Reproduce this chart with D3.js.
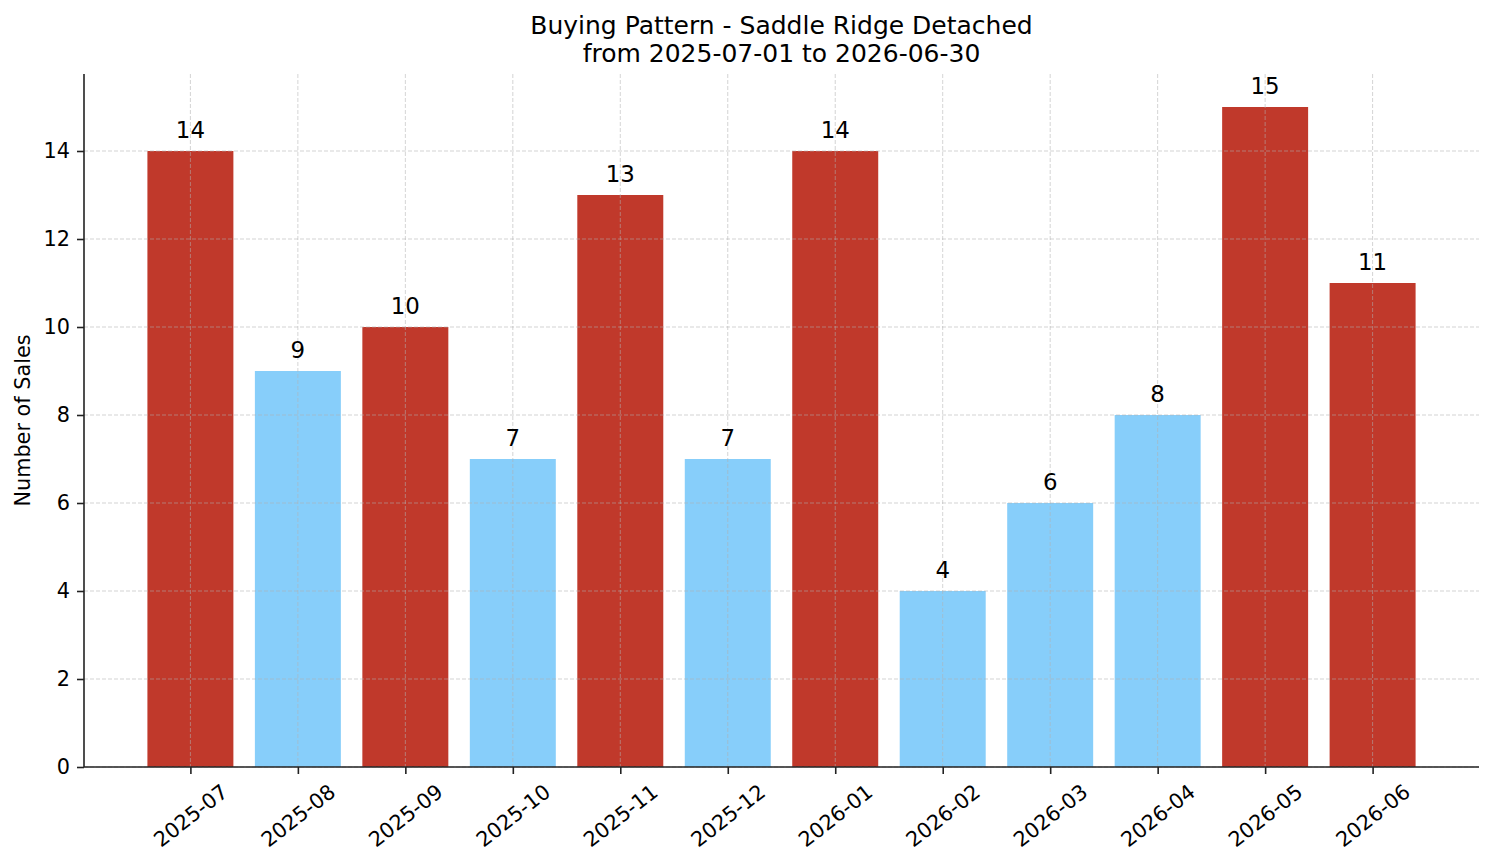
<!DOCTYPE html>
<html>
<head>
<meta charset="utf-8">
<script src="https://cdn.jsdelivr.net/npm/d3@7"></script>
<style>
  body { margin: 0; background: #fff; }
  text { font-family: "DejaVu Sans", sans-serif; fill: #000; }
</style>
</head>
<body>
<div id="chart"></div>
<script>
const months = ['2025-07', '2025-08', '2025-09', '2025-10', '2025-11', '2025-12',
  '2026-01', '2026-02', '2026-03', '2026-04', '2026-05', '2026-06'];
const sales = [14, 9, 10, 7, 13, 7, 14, 4, 6, 8, 15, 11];
const yTicks = [0, 2, 4, 6, 8, 10, 12, 14];
const titleLines = ['Buying Pattern - Saddle Ridge Detached', 'from 2025-07-01 to 2026-06-30'];

const width = 1494;
const height = 863;
const margin = { top: 74, right: 15, bottom: 96, left: 84 };
const plotW = width - margin.left - margin.right;
const plotH = height - margin.top - margin.bottom;

const HIGH = '#C0392B';
const LOW = '#87CEFA';
const mean = d3.mean(sales);

const svg = d3.select('#chart')
  .append('svg')
  .attr('width', width)
  .attr('height', height);

// x: bar index, with matplotlib-like margins around the bars
const x = d3.scaleLinear()
  .domain([-0.99, months.length - 1 + 0.99])
  .range([0, plotW]);
const barW = x(0.4) - x(-0.4);

const y = d3.scaleLinear()
  .domain([0, d3.max(sales) * 1.05])
  .range([plotH, 0]);

const g = svg.append('g')
  .attr('transform', `translate(${margin.left},${margin.top})`);

// bars
g.selectAll('rect.bar')
  .data(sales)
  .enter()
  .append('rect')
  .attr('class', 'bar')
  .attr('x', (d, i) => x(i) - barW / 2)
  .attr('y', d => y(d))
  .attr('width', barW)
  .attr('height', d => plotH - y(d))
  .attr('fill', d => (d > mean ? HIGH : LOW));

// grid on top of bars
const grid = g.append('g').attr('class', 'grid');
grid.selectAll('line.h')
  .data(yTicks)
  .enter()
  .append('line')
  .attr('x1', 0).attr('x2', plotW)
  .attr('y1', d => y(d)).attr('y2', d => y(d))
  .attr('stroke', '#b0b0b0')
  .attr('stroke-opacity', 0.55)
  .attr('stroke-width', 1)
  .attr('stroke-dasharray', '4,2');
grid.selectAll('line.v')
  .data(months)
  .enter()
  .append('line')
  .attr('x1', (d, i) => x(i)).attr('x2', (d, i) => x(i))
  .attr('y1', 0).attr('y2', plotH)
  .attr('stroke', '#b0b0b0')
  .attr('stroke-opacity', 0.55)
  .attr('stroke-width', 1)
  .attr('stroke-dasharray', '4,2');

// value labels
g.selectAll('text.val')
  .data(sales)
  .enter()
  .append('text')
  .attr('class', 'val')
  .attr('x', (d, i) => x(i))
  .attr('y', d => y(d) - 13)
  .style('text-anchor', 'middle')
  .style('font-size', '22.9px')
  .text(d => d);

// y axis
const yAxis = g.append('g')
  .call(d3.axisLeft(y).tickValues(yTicks).tickSize(7).tickPadding(7).tickFormat(d3.format('d')));
yAxis.selectAll('text').style('font-size', '20.8px').attr('fill', '#000');
yAxis.select('.domain').attr('d', `M0,0V${plotH}`);

// x axis
const xAxis = g.append('g')
  .attr('transform', `translate(0,${plotH})`)
  .call(d3.axisBottom(x).tickValues(d3.range(months.length)).tickSize(7).tickFormat(''));
xAxis.select('.domain').attr('d', `M0,0H${plotW}`);

[yAxis, xAxis].forEach(ax => {
  ax.select('.domain').attr('stroke', '#222').attr('stroke-width', 1.6);
  ax.selectAll('.tick line').attr('stroke', '#222').attr('stroke-width', 1.6);
});

// rotated month labels, centred under the ticks
const angle = 38;
const rad = angle * Math.PI / 180;
const fs = 20.8;
xAxis.selectAll('.tick').each(function (d) {
  const t = d3.select(this).append('text')
    .style('font-size', fs + 'px')
    .style('text-anchor', 'middle')
    .attr('dominant-baseline', 'central')
    .text(months[d]);
  const w = t.node().getComputedTextLength();
  const h = fs * 1.1;
  const bh = w * Math.sin(rad) + h * Math.cos(rad);
  t.attr('transform', `translate(0,${7 + 6 + bh / 2}) rotate(${-angle})`);
});

// y label
svg.append('text')
  .attr('transform', `translate(30,${margin.top + plotH / 2}) rotate(-90)`)
  .style('text-anchor', 'middle')
  .style('font-size', '20.8px')
  .text('Number of Sales');

// title
svg.append('text')
  .attr('x', margin.left + plotW / 2)
  .attr('y', 34)
  .style('text-anchor', 'middle')
  .style('font-size', '25px')
  .selectAll('tspan')
  .data(titleLines)
  .enter()
  .append('tspan')
  .attr('x', margin.left + plotW / 2)
  .attr('dy', (d, i) => (i === 0 ? 0 : 28))
  .text(d => d);
</script>
</body>
</html>
